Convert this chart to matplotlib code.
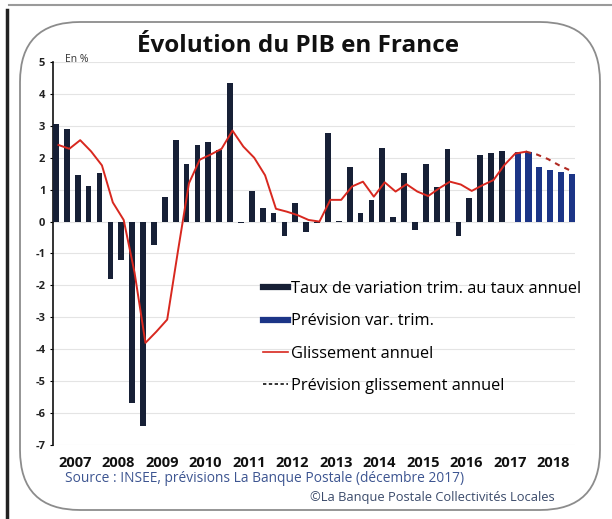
import matplotlib
matplotlib.use("Agg")
import matplotlib.pyplot as plt
from matplotlib.lines import Line2D
from matplotlib.patches import FancyBboxPatch
import numpy as np

# quarterly values, 2007Q1 .. 2018Q4
years = list(range(2007, 2019))
var_trim = [3.05, 2.9, 1.47, 1.1, 1.53, -1.8, -1.2, -5.7, -6.4, -0.72,
            0.77, 2.57, 1.8, 2.4, 2.5, 2.23, 4.34, -0.05, 0.95, 0.42,
            0.27, -0.44, 0.58, -0.33, -0.03, 2.76, 0.03, 1.72, 0.28, 0.68,
            2.29, 0.13, 1.53, -0.25, 1.79, 1.09, 2.27, -0.44, 0.75, 2.1,
            2.16, 2.2]
prev_trim = [2.19, 2.19, 1.72, 1.61, 1.54, 1.48]
glissement = [2.4, 2.28, 2.55, 2.2, 1.76, 0.6, 0.05, -1.6, -3.8, -3.45,
              -3.07, -0.9, 1.2, 1.94, 2.1, 2.28, 2.85, 2.35, 2.0, 1.45,
              0.4, 0.31, 0.2, 0.05, 0.0, 0.68, 0.68, 1.1, 1.25, 0.78,
              1.23, 0.94, 1.17, 0.94, 0.8, 1.04, 1.25, 1.16, 0.96, 1.14,
              1.3, 1.77, 2.13, 2.19]
prev_gliss = [2.19, 2.1, 1.96, 1.77, 1.61]

labels = [
    "Taux de variation trim. au taux annuel",
    "Prévision var. trim.",
    "Glissement annuel",
    "Prévision glissement annuel",
]

dark = "#172036"
blue = "#1c3587"
red = "#d8281f"
font = "Open Sans"

fig = plt.figure(figsize=(6.12, 5.19), dpi=100)
fig.patch.set_facecolor("white")

# scanned page frame
frame = FancyBboxPatch((0.2, 0.09), 5.8, 4.88,
                       boxstyle="round,pad=0,rounding_size=0.6",
                       transform=fig.dpi_scale_trans, fill=False,
                       edgecolor="#8c8c8c", linewidth=1.3)
fig.patches.append(frame)
fig.add_artist(Line2D([0.012, 0.012], [0.0, 0.98], transform=fig.transFigure,
                      color="#222222", linewidth=2.5))
fig.add_artist(Line2D([0.015, 1.0], [0.99, 0.99], transform=fig.transFigure,
                      color="#9a9a9a", linewidth=1.5))

ax = fig.add_axes([0.0866, 0.1426, 0.853, 0.738])

n_hist = len(var_trim)
x_hist = np.arange(n_hist)
x_prev = np.arange(n_hist, n_hist + len(prev_trim))
ax.bar(x_hist - 0.22, var_trim, width=0.52, color=dark, zorder=3)
ax.bar(x_prev + 0.22, prev_trim, width=0.56, color=blue, zorder=3)

x_gl = np.arange(len(glissement))
ax.plot(x_gl, glissement, color=red, linewidth=1.4, zorder=4)
x_pg = np.arange(len(glissement) - 1, len(glissement) - 1 + len(prev_gliss))
ax.plot(x_pg, prev_gliss, color="#b02a22", linewidth=1.5,
        linestyle=(0, (2.5, 2.5)), zorder=4)

ax.set_xlim(-0.5, 47.5)
ax.set_ylim(-7, 5)
ax.set_yticks(range(-7, 6))
ax.set_yticklabels([str(v) for v in range(-7, 6)], fontsize=8,
                   fontweight="bold", family=font, color="#222222")
ax.set_xticks([4 * k + 1.5 for k in range(len(years))])
ax.set_xticklabels([str(y) for y in years], fontsize=10.5,
                   fontweight="bold", family=font, color="#111111")
ax.tick_params(axis="x", length=0, pad=8)
ax.tick_params(axis="y", length=2.5, width=0.8, pad=3)
ax.grid(axis="y", color="#e4e4e4", linewidth=0.8, zorder=0)
for side in ["top", "right", "bottom"]:
    ax.spines[side].set_visible(False)
ax.spines["left"].set_linewidth(1.2)
ax.spines["left"].set_color("#111111")

handles = [
    Line2D([], [], color=dark, linewidth=4.5),
    Line2D([], [], color=blue, linewidth=4.5),
    Line2D([], [], color=red, linewidth=1.2),
    Line2D([], [], color="#111111", linewidth=1.2, linestyle=(0, (2, 1.5))),
]
fig.legend(handles, labels, loc="upper left",
           bbox_to_anchor=(263 / 612, 1 - 281 / 519),
           frameon=False, borderpad=0, borderaxespad=0,
           handlelength=1.5, handletextpad=0.2, labelspacing=1.0,
           prop={"family": font, "size": 11.8})

fig.text(298 / 612, 1 - 46 / 519, "Évolution du PIB en France",
         ha="center", va="center", fontsize=17.5, fontweight="bold",
         family=font, color="#111111")
fig.text(65 / 612, 1 - 60 / 519, "En %", ha="left", va="center",
         fontsize=7.5, family=font, color="#333333")
fig.text(65 / 612, 1 - 479 / 519,
         "Source : INSEE, prévisions La Banque Postale (décembre 2017)",
         ha="left", va="center", fontsize=9.9, family=font, color="#3d5591")
fig.text(555 / 612, 1 - 497 / 519, "©La Banque Postale Collectivités Locales",
         ha="right", va="center", fontsize=9.3, family=font, color="#3a4a6a")

fig.savefig("out.png", dpi=100)
